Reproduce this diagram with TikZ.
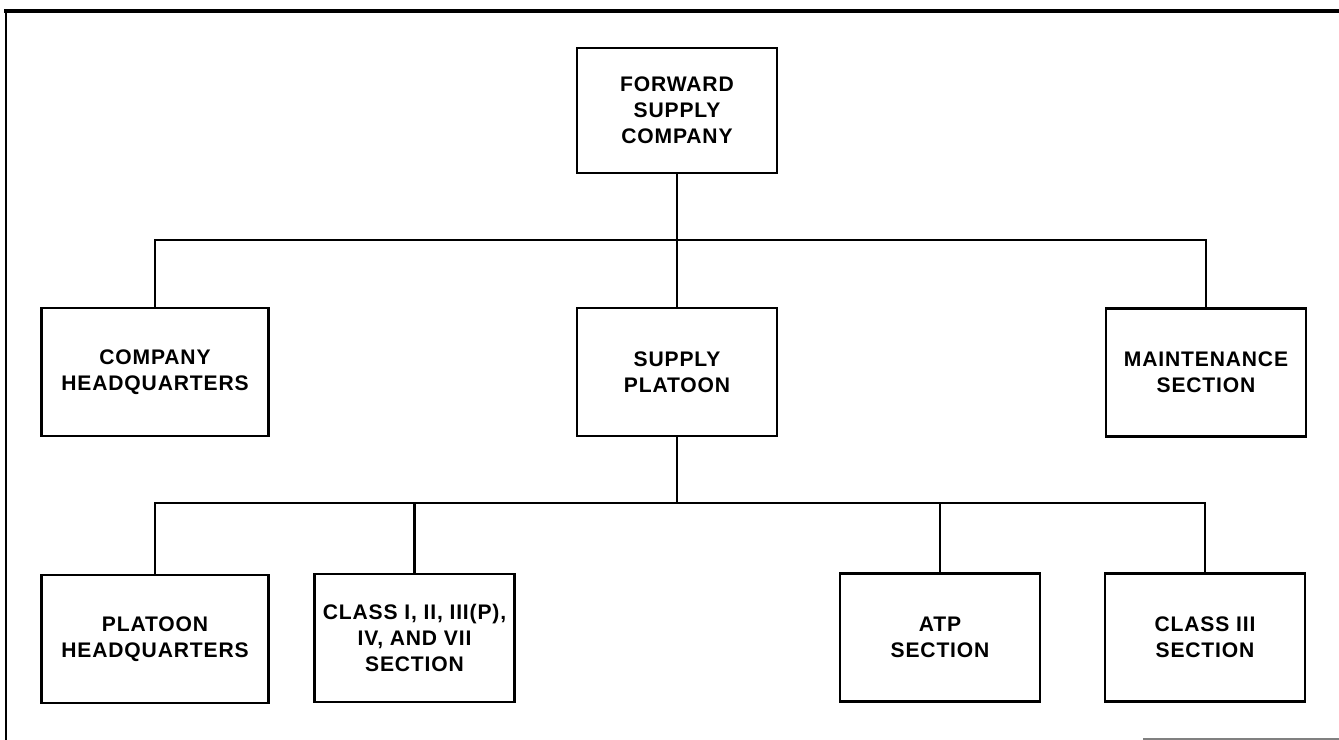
\documentclass[tikz,border=0pt]{standalone}
\usepackage{fontspec}
\setmainfont{Liberation Sans}
\newfontfamily\chartfont[LetterSpace=4]{Liberation Sans}
\begin{document}
\begin{tikzpicture}[x=0.02cm,y=-0.02cm,
  unit/.style={draw, line width=1.6pt, align=center, inner sep=0pt,
    font={\chartfont\bfseries\fontsize{12}{14.7}\selectfont},
    minimum width=4cm, minimum height=2.56cm},
  wide/.style={minimum width=4.54cm},
  link/.style={line width=1.6pt}]
\useasboundingbox (0,0) rectangle (1339,740);
% page frame
\draw[line width=2.3pt] (4,11) -- (1339,11);
\draw[line width=1.7pt] (6,11) -- (6,740);
\draw[line width=0.6pt, gray] (1143,739) -- (1339,739);
% units
\node[unit, minimum height=2.5cm] (fsc) at (677,110.5) {FORWARD\\SUPPLY\\COMPANY};
\node[unit, wide] (chq) at (155,372) {COMPANY\\HEADQUARTERS};
\node[unit] (sp) at (677,372) {SUPPLY\\PLATOON};
\node[unit] (mnt) at (1206,372.5) {MAINTENANCE\\SECTION};
\node[unit, wide] (phq) at (155,639) {PLATOON\\HEADQUARTERS};
\node[unit] (c1) at (414.5,638) {CLASS I, II, III(P),\\IV, AND VII\\SECTION};
\node[unit] (atp) at (940,637.5) {ATP\\SECTION};
\node[unit] (c3) at (1205,637.5) {CLASS III\\SECTION};
% connectors
\coordinate (b1) at (677,240);
\coordinate (b2) at (677,503);
\draw[link] (fsc.south) -- (sp.north);
\draw[link] (chq.north) |- (b1) -| (mnt.north);
\draw[link] (sp.south) -- (b2);
\draw[link] (phq.north) |- (b2) -| (c3.north);
\draw[link] (c1.north) -- (c1.north |- b2);
\draw[link] (atp.north) -- (atp.north |- b2);
\end{tikzpicture}
\end{document}
